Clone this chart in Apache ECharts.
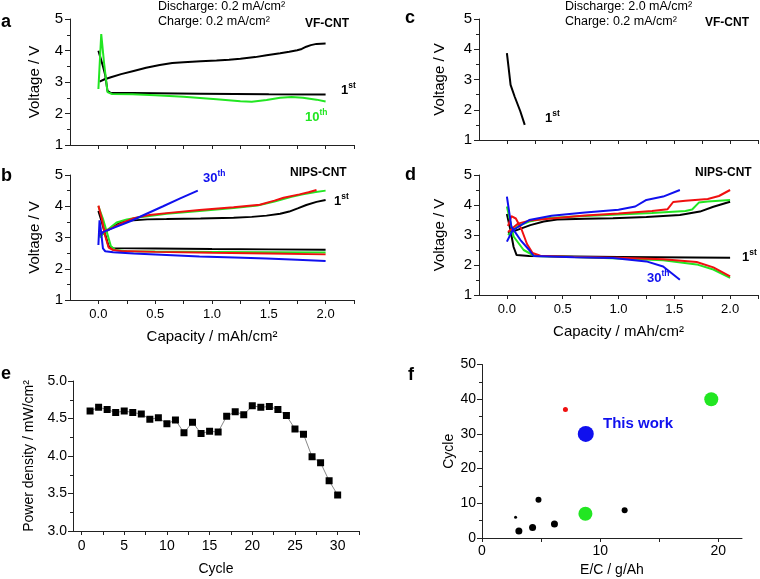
<!DOCTYPE html>
<html><head><meta charset="utf-8">
<script src="https://cdn.jsdelivr.net/npm/echarts@6/dist/echarts.min.js"></script>
<style>html,body{margin:0;padding:0;background:#fff}#c{width:760px;height:579px}</style>
</head><body><div id="c"></div>
<script>
// ---------- data ----------
const capTicks = [0, 0.25, 0.5, 0.75, 1, 1.25, 1.5, 1.75, 2, 2.25];
const capLabels = [0, 0.5, 1, 1.5, 2];
const cycleTicks = [0, 2.5, 5, 7.5, 10, 12.5, 15, 17.5, 20, 22.5, 25, 27.5, 30, 32.5];
const cycleLabels = [0, 5, 10, 15, 20, 25, 30];
const ecTicks = [0, 5, 10, 15, 20];
const ecLabels = [0, 10, 20];

// panel a (VF-CNT, 0.2/0.2)
const a1Charge = [[0.01,3.01],[0.05,3.08],[0.11,3.15],[0.2,3.25],[0.31,3.35],[0.42,3.45],[0.54,3.54],[0.65,3.6],[0.75,3.63],[0.9,3.66],[1.04,3.68],[1.15,3.71],[1.25,3.74],[1.38,3.79],[1.48,3.85],[1.6,3.91],[1.68,3.96],[1.75,4.01],[1.79,4.05],[1.83,4.12],[1.87,4.17],[1.92,4.21],[2.0,4.22]];
const a1Discharge = [[0,3.99],[0.02,3.75],[0.04,3.5],[0.06,3.22],[0.08,2.72],[0.11,2.65],[0.3,2.65],[0.9,2.63],[1.5,2.61],[2.0,2.6]];
const a10Discharge = [[0,2.78],[0.025,4.52],[0.05,3.6],[0.08,2.68],[0.12,2.62],[0.3,2.61],[0.5,2.58],[0.75,2.53],[1.04,2.45],[1.25,2.39],[1.35,2.37],[1.48,2.43],[1.6,2.5],[1.7,2.52],[1.8,2.5],[1.92,2.44],[2.0,2.38]];

// panel b (NIPS-CNT, 0.2/0.2)
const b1Charge = [[0.01,3.05],[0.05,3.15],[0.13,3.35],[0.2,3.48],[0.28,3.54],[0.43,3.58],[0.6,3.59],[0.9,3.61],[1.19,3.63],[1.35,3.66],[1.48,3.7],[1.6,3.76],[1.68,3.83],[1.76,3.94],[1.83,4.04],[1.92,4.14],[2.0,4.2]];
const b1Discharge = [[0,3.85],[0.03,3.5],[0.06,3.1],[0.09,2.72],[0.13,2.66],[0.5,2.65],[1.0,2.63],[1.5,2.62],[2.0,2.61]];
const bGreenCharge = [[0.01,3.0],[0.05,3.15],[0.1,3.3],[0.16,3.48],[0.25,3.58],[0.35,3.64],[0.6,3.76],[0.89,3.85],[1.19,3.94],[1.4,4.02],[1.55,4.15],[1.7,4.3],[1.8,4.38],[1.9,4.45],[2.0,4.5]];
const bGreenDischarge = [[0,4.0],[0.04,3.6],[0.08,3.1],[0.11,2.72],[0.15,2.6],[0.25,2.56],[0.5,2.55],[1.0,2.54],[1.5,2.53],[2.0,2.52]];
const bRedCharge = [[0.01,3.1],[0.05,3.2],[0.12,3.3],[0.2,3.45],[0.31,3.62],[0.45,3.72],[0.6,3.78],[0.89,3.88],[1.19,3.97],[1.42,4.05],[1.55,4.18],[1.63,4.27],[1.77,4.38],[1.85,4.45],[1.92,4.52]];
const bRedDischarge = [[0,4.02],[0.03,3.6],[0.06,3.05],[0.09,2.68],[0.13,2.6],[0.2,2.57],[0.5,2.54],[1.0,2.51],[1.5,2.49],[2.0,2.46]];
const b30Charge = [[0.02,3.1],[0.05,3.19],[0.15,3.33],[0.28,3.52],[0.4,3.72],[0.57,4.0],[0.72,4.25],[0.8,4.38],[0.875,4.5]];
const b30Discharge = [[0,2.76],[0.01,3.55],[0.02,3.3],[0.04,2.65],[0.06,2.56],[0.13,2.53],[0.31,2.49],[0.6,2.44],[0.89,2.39],[1.2,2.36],[1.48,2.33],[1.75,2.29],[2.0,2.25]];

// panel c (VF-CNT, 2.0/0.2)
const c1Discharge = [[0,3.87],[0.015,3.4],[0.033,2.82],[0.07,2.43],[0.12,1.95],[0.16,1.5]];

// panel d (NIPS-CNT, 2.0/0.2)
const d1Charge = [[0.01,3.06],[0.1,3.18],[0.21,3.33],[0.33,3.45],[0.45,3.52],[0.7,3.54],[0.95,3.56],[1.25,3.6],[1.55,3.67],[1.73,3.78],[1.85,3.94],[2.0,4.11]];
const d1Discharge = [[0,3.7],[0.03,3.2],[0.06,2.6],[0.087,2.33],[0.2,2.3],[1.0,2.27],[2.0,2.24]];
const dGreenCharge = [[0.01,3.0],[0.1,3.3],[0.2,3.45],[0.35,3.56],[0.6,3.62],[1.0,3.68],[1.3,3.73],[1.6,3.8],[1.66,3.85],[1.72,4.08],[1.8,4.12],[2.0,4.17]];
const dGreenDischarge = [[0,3.95],[0.06,2.95],[0.15,2.5],[0.25,2.3],[0.6,2.27],[1.0,2.22],[1.4,2.16],[1.7,2.02],[1.85,1.85],[2.0,1.57]];
const dRedCharge = [[0.01,3.1],[0.1,3.38],[0.2,3.48],[0.4,3.55],[0.7,3.65],[1.0,3.72],[1.3,3.8],[1.44,3.86],[1.49,4.1],[1.6,4.14],[1.8,4.2],[1.9,4.3],[2.0,4.5]];
const dRedDischarge = [[0.01,3.3],[0.04,3.63],[0.08,3.55],[0.13,3.2],[0.18,2.7],[0.23,2.4],[0.3,2.31],[0.6,2.27],[1.0,2.24],[1.4,2.19],[1.7,2.1],[1.85,1.92],[2.0,1.62]];
const d30Charge = [[0.0,2.78],[0.05,3.15],[0.2,3.5],[0.4,3.64],[0.7,3.75],[1.0,3.84],[1.15,3.95],[1.25,4.17],[1.4,4.28],[1.55,4.5]];
const d30Discharge = [[0,4.28],[0.04,3.28],[0.12,2.84],[0.2,2.5],[0.24,2.3],[0.6,2.26],[0.95,2.23],[1.25,2.12],[1.4,1.95],[1.55,1.51]];

// panel e
const eCycles = [1,2,3,4,5,6,7,8,9,10,11,12,13,14,15,16,17,18,19,20,21,22,23,24,25,26,27,28,29,30];
const ePower = [4.60,4.65,4.62,4.58,4.60,4.58,4.56,4.49,4.51,4.43,4.48,4.31,4.45,4.30,4.33,4.32,4.53,4.59,4.55,4.67,4.65,4.66,4.62,4.54,4.36,4.29,3.99,3.91,3.67,3.48];

// panel f
const fEC = [2.84, 3.12, 4.28, 4.78, 6.13, 12.07, 7.06, 8.75, 8.78, 19.4];
const fCycle = [6, 2, 3, 11, 4, 8, 37, 7, 30, 40];
</script>
<script>
// ---------- styles ----------
const FONT = '"Liberation Sans", Arial, sans-serif';
const K = '#000000', G = '#22e622', R = '#f01010', B = '#1010ee';
const fMarkStyle = [
  {s:3, c:K},{s:7, c:K},{s:7, c:K},{s:6, c:K},{s:7, c:K},{s:6, c:K},
  {s:5, c:R},{s:14, c:G},{s:16, c:B},{s:14, c:G}
];
const AX = {color:'#222', width:1};

const grids = [
  {left:70, top:19, width:284, height:126},   // a
  {left:70, top:175, width:284, height:125},  // b
  {left:479, top:19, width:279, height:121},  // c
  {left:479, top:175, width:279, height:120}, // d
  {left:73, top:381, width:286, height:150},  // e
  {left:482, top:364.5, width:260, height:173.5} // f
];

function capX(gi, showLabels) {
  return {
    gridIndex: gi, type:'value', min:-0.25, max:2.25,
    axisLine:{show:true, onZero:false, lineStyle:AX},
    axisTick:{show:true, length:4, customValues:capTicks, lineStyle:AX},
    axisLabel:{show:showLabels, customValues:capLabels, formatter:v=>v.toFixed(1),
      margin:8, fontSize:13, color:'#000', fontFamily:FONT},
    splitLine:{show:false},
    name: showLabels ? 'Capacity / mAh/cm²' : '',
    nameLocation:'middle', nameGap:29,
    nameTextStyle:{fontSize:15, color:'#000', fontFamily:FONT}
  };
}
function voltY(gi, gap) {
  return {
    gridIndex: gi, type:'value', min:1, max:5, interval:1,
    axisLine:{show:true, onZero:false, lineStyle:AX},
    axisTick:{show:true, length:5, lineStyle:AX},
    minorTick:{show:true, splitNumber:2, length:3, lineStyle:AX},
    axisLabel:{margin:7, fontSize:15, color:'#000', fontFamily:FONT},
    splitLine:{show:false}, minorSplitLine:{show:false},
    name:'Voltage / V', nameLocation:'middle', nameGap:gap,
    nameTextStyle:{fontSize:15, color:'#000', fontFamily:FONT}
  };
}

const xAxes = [
  capX(0,false), capX(1,true), capX(2,false), capX(3,true),
  {
    gridIndex:4, type:'value', min:-1, max:32.5,
    axisLine:{show:true, onZero:false, lineStyle:AX},
    axisTick:{show:true, length:4, customValues:cycleTicks, lineStyle:AX},
    axisLabel:{customValues:cycleLabels, margin:8, fontSize:14, color:'#000', fontFamily:FONT},
    splitLine:{show:false},
    name:'Cycle', nameLocation:'middle', nameGap:31,
    nameTextStyle:{fontSize:14, color:'#000', fontFamily:FONT}
  },
  {
    gridIndex:5, type:'value', min:0, max:22,
    axisLine:{show:true, onZero:false, lineStyle:AX},
    axisTick:{show:true, length:4, customValues:ecTicks, lineStyle:AX},
    axisLabel:{customValues:ecLabels, margin:6, fontSize:14, color:'#000', fontFamily:FONT},
    splitLine:{show:false},
    name:'E/C / g/Ah', nameLocation:'middle', nameGap:25,
    nameTextStyle:{fontSize:14, color:'#000', fontFamily:FONT}
  }
];
const yAxes = [
  voltY(0,28), voltY(1,28), voltY(2,32), voltY(3,32),
  {
    gridIndex:4, type:'value', min:3, max:5, interval:0.5,
    axisLine:{show:true, onZero:false, lineStyle:AX},
    axisTick:{show:true, length:5, lineStyle:AX},
    minorTick:{show:true, splitNumber:2, length:3, lineStyle:AX},
    axisLabel:{margin:6, fontSize:14, color:'#000', fontFamily:FONT, formatter:v=>v.toFixed(1)},
    splitLine:{show:false}, minorSplitLine:{show:false},
    name:'Power density / mW/cm²', nameLocation:'middle', nameGap:37,
    nameTextStyle:{fontSize:14, color:'#000', fontFamily:FONT}
  },
  {
    gridIndex:5, type:'value', min:0, max:50, interval:10,
    axisLine:{show:true, onZero:false, lineStyle:AX},
    axisTick:{show:true, length:5, lineStyle:AX},
    minorTick:{show:true, splitNumber:2, length:3, lineStyle:AX},
    axisLabel:{margin:6, fontSize:14, color:'#000', fontFamily:FONT},
    splitLine:{show:false}, minorSplitLine:{show:false},
    name:'Cycle', nameLocation:'middle', nameGap:19,
    nameTextStyle:{fontSize:14, color:'#000', fontFamily:FONT}
  }
];

function curve(data, color, gi) {
  return {type:'line', xAxisIndex:gi, yAxisIndex:gi, data:data, showSymbol:false, symbol:'none',
    lineStyle:{color:color, width:2}, itemStyle:{color:color}, silent:true, animation:false};
}

const series = [
  curve(a1Charge,K,0), curve(a1Discharge,K,0), curve(a10Discharge,G,0),
  curve(b1Charge,K,1), curve(b1Discharge,K,1), curve(bGreenCharge,G,1), curve(bGreenDischarge,G,1),
  curve(bRedCharge,R,1), curve(bRedDischarge,R,1), curve(b30Charge,B,1), curve(b30Discharge,B,1),
  curve(c1Discharge,K,2),
  curve(d1Charge,K,3), curve(d1Discharge,K,3), curve(dGreenCharge,G,3), curve(dGreenDischarge,G,3),
  curve(dRedCharge,R,3), curve(dRedDischarge,R,3), curve(d30Charge,B,3), curve(d30Discharge,B,3),
  {
    type:'line', xAxisIndex:4, yAxisIndex:4,
    data: eCycles.map((c,i)=>[c, ePower[i]]),
    symbol:'rect', symbolSize:7, showSymbol:true,
    lineStyle:{color:'#888', width:1}, itemStyle:{color:'#000', opacity:1}, animation:false
  },
  {
    type:'scatter', xAxisIndex:5, yAxisIndex:5,
    data: fEC.map((x,i)=>({value:[x, fCycle[i]], symbolSize:fMarkStyle[i].s,
      itemStyle:{color:fMarkStyle[i].c, opacity:1}})),
    itemStyle:{opacity:1},
    animation:false
  }
];

function txt(x, y, text, size, weight, color) {
  return {type:'text', x:x, y:y, silent:true, style:{text:text, fill:color||'#000',
    font:(weight||'normal')+' '+size+'px '+FONT, textAlign:'left', textVerticalAlign:'middle'}};
}
function ord(x, y, n, sup, color) {
  return {type:'text', x:x, y:y, silent:true, style:{
    text:'{n|'+n+'}{s|'+sup+'}', textAlign:'left', textVerticalAlign:'middle',
    rich:{
      n:{fontSize:13, fontWeight:'bold', fontFamily:FONT, fill:color, lineHeight:18},
      s:{fontSize:8.5, fontWeight:'bold', fontFamily:FONT, fill:color, lineHeight:9, verticalAlign:'top'}
    }}};
}

const graphics = [
  txt(1,22,'a',18,'bold'), txt(1,176,'b',18,'bold'), txt(405,18,'c',18,'bold'),
  txt(405,175,'d',18,'bold'), txt(1,374,'e',18,'bold'), txt(408,375,'f',18,'bold'),
  txt(158,7,'Discharge: 0.2 mA/cm²',12.5), txt(158,22,'Charge: 0.2 mA/cm²',12.5),
  txt(305,24,'VF-CNT',12,'bold'),
  ord(341,90,'1','st',K), ord(305,117,'10','th',G),
  txt(290,173,'NIPS-CNT',12,'bold'),
  ord(203,178,'30','th',B), ord(334,201,'1','st',K),
  txt(565,7,'Discharge: 2.0 mA/cm²',12.5), txt(565,22,'Charge: 0.2 mA/cm²',12.5),
  txt(705,23,'VF-CNT',12,'bold'),
  ord(545,118,'1','st',K),
  txt(695,173,'NIPS-CNT',12,'bold'),
  ord(742,257,'1','st',K), ord(647,278,'30','th',B),
  txt(603,424,'This work',15,'bold',B)
];

const chart = echarts.init(document.getElementById('c'), null, {renderer:'canvas'});
chart.setOption({
  animation:false,
  backgroundColor:'#fff',
  grid:grids, xAxis:xAxes, yAxis:yAxes, series:series, graphic:graphics
});
</script></body></html>
